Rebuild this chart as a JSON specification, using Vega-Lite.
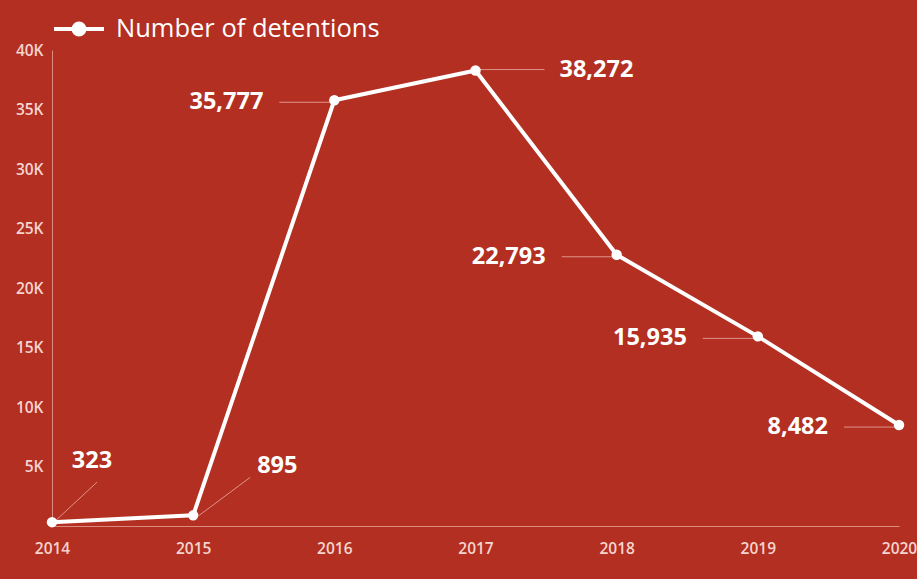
{
  "$schema": "https://vega.github.io/schema/vega-lite/v6.json",
  "width": 847,
  "height": 476,
  "autosize": "none",
  "padding": {"left": 52, "top": 50, "right": 18, "bottom": 53},
  "background": "#b22f21",
  "config": {
    "view": {"stroke": null},
    "font": "Open Sans",
    "axis": {
      "grid": false,
      "ticks": false,
      "domainColor": "#dc8a80",
      "domainWidth": 1,
      "labelColor": "#f6d5cf",
      "labelFont": "Open Sans",
      "labelFontSize": 15.5,
      "labelFontWeight": 600,
      "title": null
    }
  },
  "data": {
    "values": [
      {"year": 2014, "detentions": 323, "series": "Number of detentions"},
      {"year": 2015, "detentions": 895, "series": "Number of detentions"},
      {"year": 2016, "detentions": 35777, "series": "Number of detentions"},
      {"year": 2017, "detentions": 38272, "series": "Number of detentions"},
      {"year": 2018, "detentions": 22793, "series": "Number of detentions"},
      {"year": 2019, "detentions": 15935, "series": "Number of detentions"},
      {"year": 2020, "detentions": 8482, "series": "Number of detentions"}
    ]
  },
  "encoding": {
    "x": {
      "field": "year",
      "type": "quantitative",
      "scale": {"domain": [2014, 2020], "nice": false, "zero": false},
      "axis": {"values": [2014, 2015, 2016, 2017, 2018, 2019, 2020], "format": "d", "labelPadding": 15, "labelFlush": false, "labelOverlap": false}
    },
    "y": {
      "field": "detentions",
      "type": "quantitative",
      "scale": {"domain": [0, 40000], "nice": false},
      "axis": {
        "values": [0, 5000, 10000, 15000, 20000, 25000, 30000, 35000, 40000],
        "labelExpr": "datum.value == 0 ? '' : (datum.value / 1000) + 'K'",
        "labelPadding": 9,
        "labelFlush": false
      }
    }
  },
  "layer": [
    {
      "transform": [{"filter": "datum.year >= 2018 || datum.year == 2016"}],
      "mark": {"type": "rule", "color": "#e0948b", "strokeWidth": 1, "xOffset": -55, "x2Offset": -3, "yOffset": 2, "y2Offset": 2},
      "encoding": {"x2": {"field": "year"}, "y2": {"field": "detentions"}}
    },
    {
      "transform": [{"filter": "datum.year >= 2018 || datum.year == 2016"}],
      "mark": {"type": "text", "color": "white", "fontSize": 23.5, "fontWeight": "bold", "align": "right", "baseline": "middle", "dx": -71, "dy": 2},
      "encoding": {"text": {"field": "detentions", "type": "quantitative", "format": ","}}
    },
    {
      "transform": [{"filter": "datum.year == 2017"}],
      "mark": {"type": "rule", "color": "#e0948b", "strokeWidth": 1, "xOffset": 3, "x2Offset": 69, "yOffset": -1, "y2Offset": -1},
      "encoding": {"x2": {"field": "year"}, "y2": {"field": "detentions"}}
    },
    {
      "transform": [{"filter": "datum.year == 2017"}],
      "mark": {"type": "text", "color": "white", "fontSize": 23.5, "fontWeight": "bold", "align": "left", "baseline": "middle", "dx": 84, "dy": -1},
      "encoding": {"text": {"field": "detentions", "type": "quantitative", "format": ","}}
    },
    {
      "transform": [{"filter": "datum.year == 2014"}],
      "mark": {"type": "rule", "color": "#e0948b", "strokeWidth": 1, "xOffset": 3, "yOffset": -1, "x2Offset": 45, "y2Offset": -40},
      "encoding": {"x2": {"field": "year"}, "y2": {"field": "detentions"}}
    },
    {
      "transform": [{"filter": "datum.year == 2014"}],
      "mark": {"type": "text", "color": "white", "fontSize": 23.5, "fontWeight": "bold", "align": "center", "baseline": "middle", "dx": 40, "dy": -61},
      "encoding": {"text": {"field": "detentions", "type": "quantitative", "format": ","}}
    },
    {
      "transform": [{"filter": "datum.year == 2015"}],
      "mark": {"type": "rule", "color": "#e0948b", "strokeWidth": 1, "xOffset": 6, "yOffset": 0, "x2Offset": 57, "y2Offset": -38},
      "encoding": {"x2": {"field": "year"}, "y2": {"field": "detentions"}}
    },
    {
      "transform": [{"filter": "datum.year == 2015"}],
      "mark": {"type": "text", "color": "white", "fontSize": 23.5, "fontWeight": "bold", "align": "left", "baseline": "middle", "dx": 64, "dy": -49},
      "encoding": {"text": {"field": "detentions", "type": "quantitative", "format": ","}}
    },
    {
      "mark": {"type": "line", "strokeWidth": 4, "strokeCap": "round", "strokeJoin": "round"},
      "encoding": {
        "color": {
          "field": "series",
          "type": "nominal",
          "scale": {"range": ["white"]},
          "legend": {
            "orient": "none",
            "legendX": 0,
            "legendY": -48,
            "title": null,
            "padding": 0,
            "labelFont": "Open Sans",
            "labelFontSize": 25.5,
            "labelColor": "white",
            "labelLimit": 0,
            "labelOffset": 10,
            "symbolType": "M -1 0 L 1 0 M 0.22 0 A 0.22 0.22 0 1 1 -0.22 0 A 0.22 0.22 0 1 1 0.22 0 Z",
            "symbolSize": 2500,
            "symbolStrokeWidth": 4,
            "symbolStrokeColor": "white",
            "symbolFillColor": "white"
          }
        }
      }
    },
    {
      "mark": {"type": "point", "filled": true, "size": 110, "color": "white", "opacity": 1}
    }
  ]
}
